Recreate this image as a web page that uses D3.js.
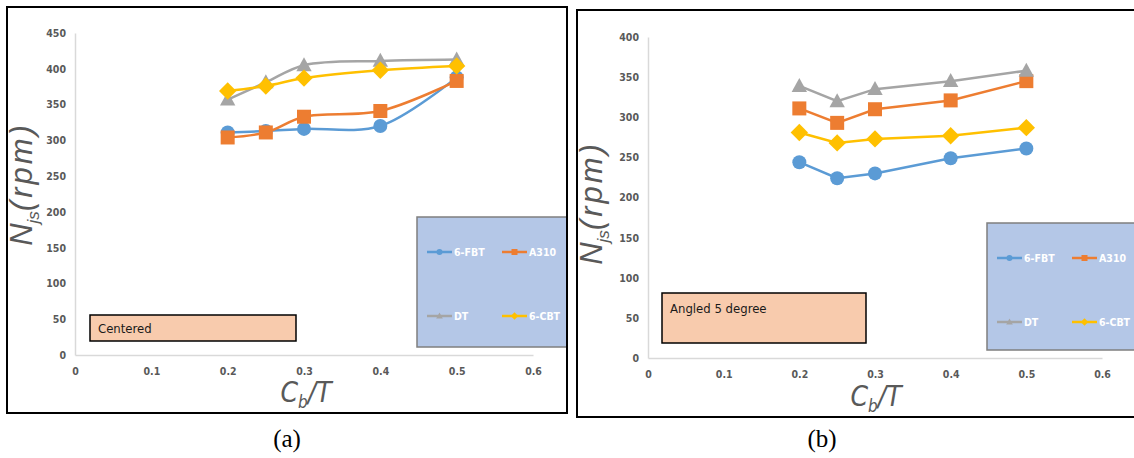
<!DOCTYPE html>
<html>
<head>
<meta charset="utf-8">
<script src="https://cdn.jsdelivr.net/npm/d3@7"></script>
<style>
  html, body { margin: 0; padding: 0; background: #fff; }
  svg { display: block; }
</style>
</head>
<body>
<svg id="chart" width="1134" height="458"></svg>
<script>
// Clearance ratio values
const cbT = [0.2, 0.25, 0.3, 0.4, 0.5];
const impellers = ["6-FBT", "A310", "DT", "6-CBT"];

// Just-suspended speed Njs (rpm), centered impeller
const centeredFBT = [311, 313, 316, 320, 388];
const centeredA310 = [304, 311, 333, 341, 383];
const centeredDT = [357, 381, 405, 411, 413];
const centeredCBT = [369, 376, 387, 398, 404];

// Just-suspended speed Njs (rpm), impeller angled 5 degree
const angledFBT = [244, 224, 230, 249, 261];
const angledA310 = [311, 293, 310, 321, 345];
const angledDT = [339, 320, 335, 345, 358];
const angledCBT = [281, 268, 273, 277, 287];

const xTicks = [0, 0.1, 0.2, 0.3, 0.4, 0.5, 0.6];
const yTicksA = [0, 50, 100, 150, 200, 250, 300, 350, 400, 450];
const yTicksB = [0, 50, 100, 150, 200, 250, 300, 350, 400];

const colors = ["#5b9bd5", "#ed7d31", "#a5a5a5", "#ffc000"];
const shapes = ["circle", "square", "triangle", "diamond"];

const panels = [
  {
    frame: [7, 7, 560, 406],
    x0: 75, x1: 533, yTop: 33, yBot: 355, yMax: 450, yTicks: yTicksA,
    series: [centeredFBT, centeredA310, centeredDT, centeredCBT],
    curve: d3.curveCatmullRom.alpha(0.5),
    note: "Centered", noteBox: [90, 315, 206, 26], noteText: [98, 333],
    legend: [417, 217, 150, 130],
    yTitle: [32, 184], xTitle: [306, 402], caption: "(a)", captionX: 287
  },
  {
    frame: [577, 10, 560, 407],
    x0: 648, x1: 1102, yTop: 37, yBot: 358, yMax: 400, yTicks: yTicksB,
    series: [angledFBT, angledA310, angledDT, angledCBT],
    curve: d3.curveLinear,
    note: "Angled 5 degree", noteBox: [662, 293, 204, 50], noteText: [670, 313],
    legend: [987, 223, 150, 127],
    yTitle: [602, 203], xTitle: [876, 406], caption: "(b)", captionX: 822
  }
];

const svg = d3.select("#chart");
const tickFont = "'DejaVu Sans Condensed', 'Liberation Sans Narrow', sans-serif";

function marker(g, shape, cx, cy, s, color) {
  if (shape === "circle") {
    g.append("circle").attr("cx", cx).attr("cy", cy).attr("r", s * 0.5).attr("fill", color);
  } else if (shape === "square") {
    g.append("rect").attr("x", cx - s * 0.5).attr("y", cy - s * 0.5)
      .attr("width", s).attr("height", s).attr("fill", color);
  } else if (shape === "triangle") {
    const h = s * 0.5;
    g.append("path").attr("d", `M${cx},${cy - h * 1.15}L${cx + h * 1.1},${cy + h * 0.85}L${cx - h * 1.1},${cy + h * 0.85}Z`)
      .attr("fill", color);
  } else {
    const h = s * 0.62;
    g.append("path").attr("d", `M${cx},${cy - h}L${cx + h},${cy}L${cx},${cy + h}L${cx - h},${cy}Z`)
      .attr("fill", color);
  }
}

panels.forEach(p => {
  const g = svg.append("g");
  const x = d3.scaleLinear().domain([0, 0.6]).range([p.x0, p.x1]);
  const y = d3.scaleLinear().domain([0, p.yMax]).range([p.yBot, p.yTop]);

  // axes
  const xAxis = d3.axisBottom(x).tickValues(xTicks).tickSize(0).tickPadding(13)
    .tickFormat(d => d === 0 ? "0" : d3.format(".1f")(d));
  const gx = g.append("g").attr("transform", `translate(0,${p.yBot})`).call(xAxis);
  gx.select(".domain").attr("stroke", "#d9d9d9").attr("stroke-width", 1.5);
  gx.selectAll("text").attr("fill", "#595959").style("font", `bold 10.5px ${tickFont}`);

  const yAxis = d3.axisLeft(y).tickValues(p.yTicks).tickSize(0).tickPadding(9);
  const gy = g.append("g").attr("transform", `translate(${p.x0},0)`).call(yAxis);
  gy.select(".domain").attr("stroke", "#d9d9d9").attr("stroke-width", 1.5);
  gy.selectAll("text").attr("fill", "#595959").style("font", `bold 10.5px ${tickFont}`);

  // series lines and markers
  p.series.forEach((vals, i) => {
    const pts = cbT.map((c, k) => [x(c), y(vals[k])]);
    g.append("path").attr("d", d3.line().curve(p.curve)(pts))
      .attr("fill", "none").attr("stroke", colors[i]).attr("stroke-width", 2.5);
  });
  p.series.forEach((vals, i) => {
    const mg = g.append("g");
    cbT.forEach((c, k) => marker(mg, shapes[i], x(c), y(vals[k]), 14, colors[i]));
  });

  // note box
  g.append("rect").attr("x", p.noteBox[0]).attr("y", p.noteBox[1])
    .attr("width", p.noteBox[2]).attr("height", p.noteBox[3])
    .attr("fill", "#f8cbad").attr("stroke", "#000").attr("stroke-width", 1.5);
  g.append("text").attr("x", p.noteText[0]).attr("y", p.noteText[1])
    .attr("fill", "#1a1a1a").style("font", `13px 'DejaVu Sans Condensed', 'Open Sans', sans-serif`)
    .text(p.note);

  // legend box
  const [lx, ly, lw, lh] = p.legend;
  g.append("rect").attr("x", lx).attr("y", ly).attr("width", lw).attr("height", lh)
    .attr("fill", "#b4c7e7").attr("stroke", "#7f7f7f").attr("stroke-width", 1.5);
  impellers.forEach((name, i) => {
    const col = i % 2, row = Math.floor(i / 2);
    const ix = lx + 10 + col * 75;
    const iy = ly + 35 + row * 64;
    g.append("line").attr("x1", ix).attr("x2", ix + 25).attr("y1", iy).attr("y2", iy)
      .attr("stroke", colors[i]).attr("stroke-width", 2.5);
    marker(g, shapes[i], ix + 12.5, iy, 6, colors[i]);
    g.append("text").attr("x", ix + 27).attr("y", iy + 4)
      .attr("fill", "#ffffff").style("font", `bold 10.5px ${tickFont}`).text(name);
  });

  // axis titles
  const yt = g.append("text")
    .attr("transform", `translate(${p.yTitle[0]},${p.yTitle[1]}) rotate(-90)`)
    .attr("text-anchor", "middle").attr("fill", "#595959")
    .style("font", `italic 31px 'Liberation Sans', sans-serif`);
  yt.append("tspan").text("N");
  yt.append("tspan").attr("dy", 7).style("font-size", "17px").text("js");
  yt.append("tspan").attr("dy", -7).attr("letter-spacing", 3).text("(rpm)");

  const xt = g.append("text").attr("x", p.xTitle[0]).attr("y", p.xTitle[1])
    .attr("text-anchor", "middle").attr("fill", "#595959")
    .style("font", `italic 28px 'DejaVu Sans Condensed', 'Liberation Sans', sans-serif`);
  xt.append("tspan").text("C");
  xt.append("tspan").attr("dy", 6).style("font-size", "17px").text("b");
  xt.append("tspan").attr("dy", -6).text("/T");

  // frame
  const [fx, fy, fw, fh] = p.frame;
  svg.append("rect").attr("x", fx).attr("y", fy).attr("width", fw).attr("height", fh)
    .attr("fill", "none").attr("stroke", "#000").attr("stroke-width", 2);

  // caption
  svg.append("text").attr("x", p.captionX).attr("y", 447).attr("text-anchor", "middle")
    .attr("fill", "#000").style("font", `25px 'Liberation Serif', serif`).text(p.caption);
});
</script>
</body>
</html>
